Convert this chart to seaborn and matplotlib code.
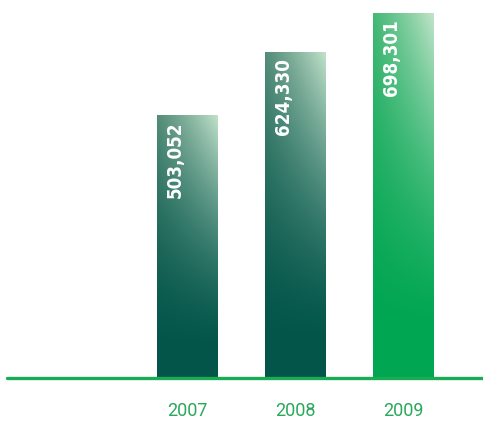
import numpy as np
import pandas as pd
import matplotlib
matplotlib.use("Agg")
import matplotlib.pyplot as plt
import seaborn as sns
from matplotlib.colors import to_rgb

years = ["2007", "2008", "2009"]
values = [503052, 624330, 698301]
value_labels = ["503,052", "624,330", "698,301"]
bottom_colors = ["#03554a", "#03554a", "#00a651"]
top_left_colors = ["#6fa08a", "#6fa08a", "#5cbf84"]
top_right_colors = ["#c2e2cb", "#c2e2cb", "#c2e4ca"]

sns.set_theme(style="white")
plt.rcParams['font.family'] = ['Roboto', 'DejaVu Sans']

df = pd.DataFrame({"year": years, "value": values})

fig = plt.figure(figsize=(4.83, 4.21), dpi=100)
ax = fig.add_axes([7/483, 1 - 378/421, (483 - 7)/483, (378 - 0)/421])

sns.barplot(data=df, x="year", y="value", ax=ax, color="#03554a", width=61/108)

ax.set_xlim((7 - 187.5) / 108, (483 - 187.5) / 108)
ymax = values[2] * 378 / (378 - 13)
ax.set_ylim(0, ymax)

for sp in ax.spines.values():
    sp.set_visible(False)
ax.set_xticks([])
ax.set_yticks([])
ax.set_xlabel("")
ax.set_ylabel("")

ax.axhline(0, color="#1aab55", lw=2.4, zorder=5, clip_on=False)

ext = ymax * 0.006
ny, nx = 200, 60
for i, patch in enumerate(ax.patches):
    x0 = patch.get_x()
    w = patch.get_width()
    h = patch.get_height()
    v = np.linspace(0, 1, ny)[:, None]
    hh = np.linspace(0, 1, nx)[None, :]
    vt = np.clip((v - 0.12) / 0.88, 0, 1) ** 1.45
    b = np.array(to_rgb(bottom_colors[i]))
    tl = np.array(to_rgb(top_left_colors[i]))
    tr = np.array(to_rgb(top_right_colors[i]))
    top = tl[None, None, :] * (1 - hh[..., None]) + tr[None, None, :] * hh[..., None]
    hv = np.clip(vt * (0.75 + 0.25 * hh), 0, 1)[..., None]
    img = b[None, None, :] * (1 - hv) + top * hv
    patch.set_facecolor("none")
    patch.set_edgecolor("none")
    patch.set_y(-ext)
    patch.set_height(h + ext)
    im = ax.imshow(img, extent=[x0, x0 + w, -ext, h], origin="lower",
                   aspect="auto", zorder=2, interpolation="bilinear")
    im.set_clip_path(patch)

for i, patch in enumerate(ax.patches):
    cx = patch.get_x() + patch.get_width() * 0.30
    ax.text(cx, values[i] - ymax * 0.016, value_labels[i], rotation=90, ha="center", va="top",
            color="white", fontsize=13.5, fontweight="bold",
            family=["DejaVu Sans"], fontstretch="condensed", zorder=6)

for i, y in enumerate(years):
    ax.text(i, -ymax * 0.088, y, ha="center", va="center", color="#2aa85a",
            fontsize=13, clip_on=False)

ax.set_xlim((7 - 187.5) / 108, (483 - 187.5) / 108)
ax.set_ylim(0, ymax)
fig.savefig("out.png", dpi=100)
